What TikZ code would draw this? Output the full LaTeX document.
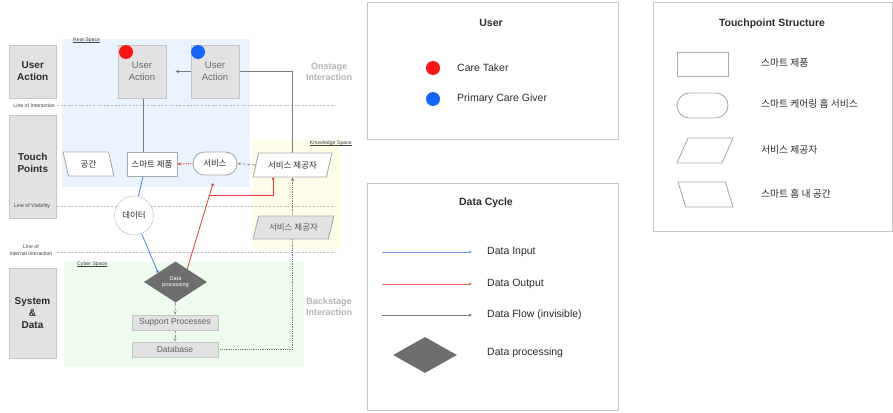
\documentclass[tikz,border=0pt]{standalone}
\usepackage{fontspec}
\setmainfont{Liberation Sans}
\newfontfamily\kr{Noto Sans CJK KR}
\usetikzlibrary{shapes.geometric,arrows.meta,calc}
\pgfdeclarelayer{bg}
\pgfdeclarelayer{conn}
\pgfsetlayers{bg,conn,main}
\newcommand\myul[1]{\setbox0\hbox{#1}\rlap{\rule[-0.9pt]{\wd0}{0.35pt}}\box0}
\definecolor{bluebg}{HTML}{EAF4FE}
\definecolor{yelbg}{HTML}{FEFDE8}
\definecolor{grnbg}{HTML}{EDFCEC}
\definecolor{boxfill}{HTML}{E2E2E2}
\definecolor{boxline}{HTML}{C6C6C6}
\definecolor{shline}{HTML}{ABABAB}
\definecolor{redc}{HTML}{FF1414}
\definecolor{bluec}{HTML}{1466FF}
\definecolor{inblue}{HTML}{4C7EE8}
\definecolor{outred}{HTML}{E23B3B}
\definecolor{flowgray}{HTML}{7A7A7A}
\definecolor{dpgray}{HTML}{6E6E6E}
\definecolor{faint}{HTML}{B4B4B4}
\definecolor{txt}{HTML}{2B2B2B}
\definecolor{sepline}{HTML}{BDBDBD}
\begin{document}
\begin{tikzpicture}[x=1pt,y=-1pt,
  font=\fontsize{8}{9.5}\selectfont,
  lbl/.style={draw=boxline, fill=boxfill, line width=0.9pt, minimum width=47pt,
    font=\fontsize{10}{12}\selectfont\bfseries, text=txt, align=center},
  lbltxt/.style={font=\fontsize{10}{12}\selectfont\bfseries, text=txt, align=center},
  uabox/.style={draw=boxline, fill=boxfill, line width=0.9pt, minimum width=48pt,
    minimum height=53pt, text=black!58, align=center, font=\fontsize{9.5}{11.5}\selectfont},
  dot/.style={circle, minimum size=14pt, inner sep=0pt},
  wbox/.style={draw=shline, fill=white, line width=0.9pt, font=\kr\fontsize{8.5}{9}\selectfont, text=txt},
  para/.style={trapezium, trapezium stretches=true, inner sep=1pt},
  pill/.style={rectangle, rounded corners=11.5pt},
  gbox/.style={draw=boxline, fill=boxfill, line width=0.9pt, minimum width=86pt,
    minimum height=15pt, inner sep=0pt, text=black!62, font=\fontsize{8.5}{9}\selectfont},
  dproc/.style={diamond, fill=dpgray, inner sep=0pt, aspect=1.5},
  small/.style={font=\fontsize{5.2}{6}\selectfont, text=black!75, inner sep=0pt},
  stage/.style={font=\fontsize{9}{11}\selectfont\bfseries, text=faint, align=center},
  sepdash/.style={draw=sepline, line width=0.6pt, dash pattern=on 2pt off 1.6pt},
  flow/.style={draw=flowgray, line width=0.8pt},
  flowd/.style={draw=flowgray!80, line width=0.8pt, densely dashed},
  outl/.style={draw=outred, line width=0.8pt},
  inl/.style={draw=inblue, line width=0.8pt},
  tip/.style={-{Stealth[length=3.5pt,width=3.2pt]}},
  dtip/.style={-{Circle[length=2.6pt]}},
  legbox/.style={draw=boxline, line width=1pt},
  ltitle/.style={font=\fontsize{10.5}{12}\selectfont\bfseries, text=txt},
  ltext/.style={anchor=west, font=\fontsize{10.5}{12}\selectfont, text=txt, inner sep=0pt},
  lkr/.style={anchor=west, font=\kr\fontsize{9.8}{11}\selectfont, text=txt, inner sep=0pt},
  lshape/.style={draw=shline, line width=0.9pt}
]
\useasboundingbox (0,0) rectangle (893,412);

% ---------- regions and separator lines ----------
\begin{pgfonlayer}{bg}
  \fill[bluebg] (62,39) rectangle (250,187);
  \fill[yelbg] (252,140) rectangle (341,249);
  \fill[grnbg] (64,262) rectangle (304,367);
  \draw[sepdash] (57,105) -- (335,105);
  \draw[sepdash] (57,206) -- (335,206);
  \draw[sepdash] (57,252) -- (335,252);
\end{pgfonlayer}

\node[small, anchor=west] (realsp) at (73,40.5) {\myul{Real Space}};
\node[small, anchor=east] (knowsp) at (352,143) {\myul{Knowledge Space}};
\node[small, anchor=west] (cybersp) at (77,264) {\myul{Cyber Space}};

% ---------- left lane labels ----------
\node[lbl, minimum height=53pt] (laneua) at (32.8,71.5) {User\\Action};
\node[lbl, minimum height=103pt, label={[lbltxt, yshift=4pt]center:{Touch\\Points}}] (lanetp) at (32.8,166.5) {};
\node[lbl, minimum height=90pt] (lanesd) at (32.5,313) {System\\\&\\Data};

\node[small, anchor=east] (loi) at (55,105.5) {Line of Interaction};
\node[small, anchor=center] (lov) at (32,206) {Line of Visibility};
\node[small, align=center, font=\fontsize{5.2}{7}\selectfont] (lii) at (31,250.5) {Line of\\Internal interaction};

\node[stage] (onst) at (329,71.5) {Onstage\\Interaction};
\node[stage] (backst) at (329,307) {Backstage\\Interaction};

% ---------- nodes ----------
\node[uabox] (ua1) at (142,71.5) {User\\Action};
\node[dot, fill=redc] (c1) at (126,52) {};
\node[uabox] (ua2) at (215,71.5) {User\\Action};
\node[dot, fill=bluec] (c2) at (198,52) {};

\node[wbox, para, trapezium left angle=104, trapezium right angle=76,
      minimum width=51pt, minimum height=24pt] (gg) at (88.5,164) {공간};
\node[wbox, minimum width=50pt, minimum height=24pt, inner sep=0pt] (sm) at (152,164) {스마트 제품};
\node[wbox, pill, minimum width=44pt, minimum height=23pt, inner sep=0pt] (sv) at (215,163.5) {서비스};
\node[wbox, para, trapezium left angle=67, trapezium right angle=113,
      minimum width=79pt, minimum height=24pt] (sp) at (292.5,165) {서비스 제공자};
\node[wbox, para, fill=boxfill, text=black!65, trapezium left angle=67, trapezium right angle=113,
      minimum width=81pt, minimum height=23pt] (sp2) at (293.5,227.5) {서비스 제공자};

\node[wbox, circle, draw=shline, dash pattern=on 1.2pt off 1.2pt, line width=0.7pt,
      minimum size=39pt, inner sep=0pt] (data) at (134,215.5) {데이터};

\node[dproc, minimum width=63pt, minimum height=41pt, text=white, align=center,
      font=\fontsize{5.5}{6.5}\selectfont] (dp) at (175.5,282) {Data\\processing};
\node[gbox] (sup) at (175,322.5) {Support Processes};
\node[gbox] (db) at (175,349.5) {Database};

% ---------- connectors ----------
\coordinate (smb) at ($(sm.south)+(-9,0)$);
\coordinate (dpin) at ($(dp.north)!0.55!(dp.west)$);
\coordinate (dpout) at ($(dp.north)!0.37!(dp.east)$);
\coordinate (svin) at ($(sv.south)+(-2,8)$);
\coordinate (br) at ($(dpout)!0.861!(svin)$);
\coordinate (spin) at ($(sp.center |- sp.south)+(-19.5,0)$);
\coordinate (ua1b) at ($(ua1.south)+(1.5,0)$);

\begin{pgfonlayer}{conn}
  \draw[flow] (ua1b) -- (ua1b |- sm.north);
  \draw[flow, tip, shorten >=9pt] (sp.center |- sp.north) |- (ua1.east);
  \draw[flowd, tip] (sp.west) -- (sv.east);
  \draw[outl, densely dotted, line width=1pt, tip] (sv.west) -- (sm.east);
  \draw[outl, dtip] (dpout) -- (svin);
  \draw[outl, dtip] (br) -| (spin);
  \draw[inl] (smb) -- (data);
  \draw[inl, dtip] (data) -- (dpin);
  \draw[flowd, tip] (dp.south) -- (sup.north);
  \draw[flowd, tip] (sup.south) -- (db.north);
  \draw[flow, densely dotted, tip] (db.east) -| (sp.center |- sp.south);
\end{pgfonlayer}

% ---------- legend: User ----------
\node[legbox, minimum width=251pt, minimum height=136pt] (userbox) at (492.5,71) {};
\node[ltitle] (usertitle) at (491,23) {User};
\node[dot, fill=redc] (lred) at (433,68) {};
\node[ltext] (lredt) at (457,68) {Care Taker};
\node[dot, fill=bluec] (lblue) at (433,99) {};
\node[ltext] (lbluet) at (457,99) {Primary Care Giver};

% ---------- legend: Data Cycle ----------
\node[legbox, minimum width=251pt, minimum height=227pt] (dcbox) at (492.5,296.5) {};
\node[ltitle] (dctitle) at (486,203) {Data Cycle};
\coordinate (li1) at (382,252); \coordinate (li2) at (472,252);
\coordinate (lo1) at (382,284); \coordinate (lo2) at (472,284);
\coordinate (lf1) at (382,315); \coordinate (lf2) at (472,315);
\draw[draw=inblue!75, line width=0.8pt, tip] (li1) -- (li2);
\draw[draw=outred!80, line width=0.8pt, tip] (lo1) -- (lo2);
\draw[draw=flowgray, line width=0.8pt, tip] (lf1) -- (lf2);
\node[ltext] (lit) at (487,252) {Data Input};
\node[ltext] (lot) at (487,284) {Data Output};
\node[ltext] (lft) at (487,315) {Data Flow (invisible)};
\node[dproc, minimum width=64pt, minimum height=36pt] (ldp) at (425,355) {};
\node[ltext] (ldpt) at (487,353) {Data processing};

% ---------- legend: Touchpoint Structure ----------
\node[legbox, minimum width=239pt, minimum height=228pt] (tpbox) at (772.5,117) {};
\node[ltitle] (tptitle) at (772,24) {Touchpoint Structure};
\node[lshape, minimum width=51pt, minimum height=24pt] (lrect) at (702.5,64) {};
\node[lshape, rounded corners=12.5pt, minimum width=51pt, minimum height=25pt] (lpill) at (702.5,105.5) {};
\node[lshape, para, trapezium left angle=72, trapezium right angle=108,
      minimum width=56pt, minimum height=25pt] (lpar1) at (705,150.5) {};
\node[lshape, para, trapezium left angle=101, trapezium right angle=79,
      minimum width=55pt, minimum height=25pt] (lpar2) at (705.5,194.5) {};
\node[lkr] (lrectt) at (761,63) {스마트 제품};
\node[lkr] (lpillt) at (761,104) {스마트 케어링 홈 서비스};
\node[lkr] (lpar1t) at (761,150) {서비스 제공자};
\node[lkr] (lpar2t) at (761,194) {스마트 홈 내 공간};
\end{tikzpicture}
\end{document}
